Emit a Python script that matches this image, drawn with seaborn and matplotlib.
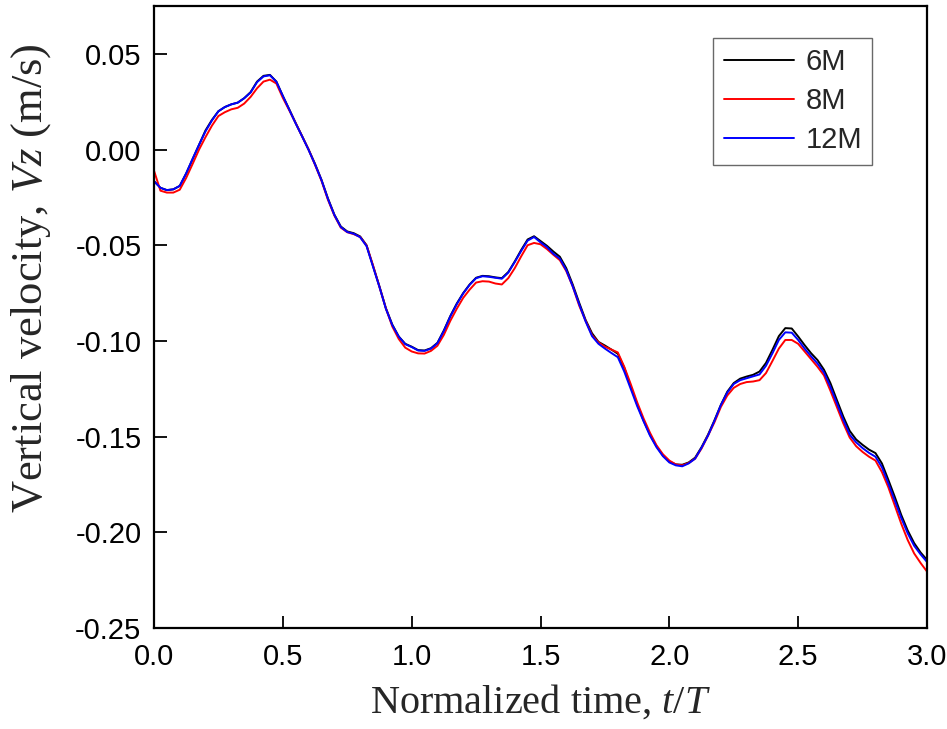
import numpy as np
import pandas as pd
import seaborn as sns
import matplotlib.pyplot as plt

# normalized time t/T, sampled every 0.025
t = [i * 0.025 for i in range(121)]

v_6m = [-0.0165, -0.0200, -0.0212, -0.0208, -0.0190, -0.0125, -0.0050, 0.0025, 0.0100, 0.0155,
        0.0200, 0.0222, 0.0236, 0.0245, 0.0268, 0.0300, 0.0355, 0.0385, 0.0390, 0.0355,
        0.0280, 0.0210, 0.0138, 0.0070, 0.0000, -0.0075, -0.0158, -0.0255, -0.0340, -0.0402,
        -0.0428, -0.0437, -0.0454, -0.0500, -0.0608, -0.0715, -0.0829, -0.0915, -0.0977, -0.1015,
        -0.1030, -0.1048, -0.1050, -0.1038, -0.1010, -0.0945, -0.0870, -0.0805, -0.0750, -0.0705,
        -0.0670, -0.0660, -0.0662, -0.0668, -0.0672, -0.0640, -0.0585, -0.0525, -0.0470, -0.0453,
        -0.0478, -0.0503, -0.0533, -0.0560, -0.0620, -0.0705, -0.0800, -0.0890, -0.0960, -0.1005,
        -0.1024, -0.1045, -0.1067, -0.1140, -0.1238, -0.1330, -0.1416, -0.1490, -0.1550, -0.1598,
        -0.1630, -0.1645, -0.1647, -0.1635, -0.1610, -0.1555, -0.1490, -0.1415, -0.1334, -0.1265,
        -0.1220, -0.1197, -0.1186, -0.1177, -0.1160, -0.1115, -0.1047, -0.0975, -0.0933, -0.0935,
        -0.0977, -0.1022, -0.1064, -0.1100, -0.1150, -0.1220, -0.1308, -0.1395, -0.1470, -0.1515,
        -0.1543, -0.1568, -0.1586, -0.1640, -0.1726, -0.1815, -0.1909, -0.1990, -0.2056, -0.2105,
        -0.2144]

v_8m = [-0.0110, -0.0215, -0.0225, -0.0225, -0.0210, -0.0148, -0.0075, 0.0000, 0.0065, 0.0125,
        0.0175, 0.0195, 0.0210, 0.0218, 0.0240, 0.0275, 0.0320, 0.0355, 0.0365, 0.0345,
        0.0270, 0.0205, 0.0138, 0.0068, 0.0000, -0.0080, -0.0163, -0.0262, -0.0345, -0.0408,
        -0.0432, -0.0442, -0.0457, -0.0502, -0.0605, -0.0718, -0.0830, -0.0925, -0.0990, -0.1035,
        -0.1055, -0.1065, -0.1066, -0.1052, -0.1025, -0.0968, -0.0895, -0.0832, -0.0775, -0.0732,
        -0.0695, -0.0688, -0.0690, -0.0700, -0.0705, -0.0672, -0.0620, -0.0558, -0.0500, -0.0488,
        -0.0495, -0.0520, -0.0550, -0.0578, -0.0635, -0.0715, -0.0815, -0.0895, -0.0970, -0.1008,
        -0.1030, -0.1045, -0.1060, -0.1135, -0.1225, -0.1320, -0.1405, -0.1480, -0.1545, -0.1592,
        -0.1625, -0.1645, -0.1650, -0.1638, -0.1615, -0.1562, -0.1495, -0.1425, -0.1345, -0.1285,
        -0.1245, -0.1225, -0.1215, -0.1212, -0.1205, -0.1168, -0.1105, -0.1040, -0.0995, -0.0995,
        -0.1015, -0.1055, -0.1095, -0.1135, -0.1180, -0.1260, -0.1345, -0.1430, -0.1505, -0.1550,
        -0.1580, -0.1605, -0.1625, -0.1685, -0.1765, -0.1860, -0.1955, -0.2040, -0.2110, -0.2160,
        -0.2205]

v_12m = [-0.0165, -0.0200, -0.0212, -0.0208, -0.0190, -0.0124, -0.0048, 0.0025, 0.0095, 0.0152,
         0.0200, 0.0222, 0.0236, 0.0245, 0.0268, 0.0298, 0.0352, 0.0382, 0.0388, 0.0354,
         0.0280, 0.0208, 0.0136, 0.0068, -0.0002, -0.0078, -0.0160, -0.0258, -0.0342, -0.0405,
         -0.0431, -0.0440, -0.0458, -0.0505, -0.0612, -0.0718, -0.0832, -0.0918, -0.0978, -0.1017,
         -0.1032, -0.1050, -0.1052, -0.1040, -0.1012, -0.0948, -0.0872, -0.0808, -0.0752, -0.0707,
         -0.0672, -0.0662, -0.0665, -0.0670, -0.0675, -0.0643, -0.0588, -0.0530, -0.0476, -0.0457,
         -0.0485, -0.0510, -0.0545, -0.0570, -0.0630, -0.0715, -0.0808, -0.0898, -0.0975, -0.1015,
         -0.1040, -0.1063, -0.1085, -0.1160, -0.1250, -0.1340, -0.1420, -0.1495, -0.1555, -0.1602,
         -0.1635, -0.1650, -0.1655, -0.1640, -0.1615, -0.1558, -0.1495, -0.1418, -0.1335, -0.1270,
         -0.1225, -0.1205, -0.1195, -0.1185, -0.1175, -0.1130, -0.1065, -0.0995, -0.0955, -0.0957,
         -0.0995, -0.1040, -0.1080, -0.1118, -0.1165, -0.1240, -0.1325, -0.1412, -0.1490, -0.1530,
         -0.1560, -0.1585, -0.1605, -0.1660, -0.1745, -0.1835, -0.1925, -0.2005, -0.2070, -0.2115,
         -0.2155]

labels = ["6M", "8M", "12M"]
colors = ["black", "red", "blue"]

df = pd.DataFrame({
    "t": t * 3,
    "vz": v_6m + v_8m + v_12m,
    "mesh": [labels[0]] * len(t) + [labels[1]] * len(t) + [labels[2]] * len(t),
})

sns.set_style("ticks")
plt.rcParams["font.family"] = ["Liberation Sans", "DejaVu Sans"]
plt.rcParams["axes.unicode_minus"] = False
plt.rcParams["mathtext.fontset"] = "custom"
plt.rcParams["mathtext.rm"] = "Liberation Serif"
plt.rcParams["mathtext.it"] = "Liberation Serif:italic"

fig = plt.figure(figsize=(9.47, 7.29), dpi=100)
ax = fig.add_axes([0.1626, 0.1385, 0.8163, 0.8533])

sns.lineplot(data=df, x="t", y="vz", hue="mesh", hue_order=labels,
             palette=dict(zip(labels, colors)), linewidth=1.4, ax=ax)

ax.set_xlim(0, 3.0)
ax.set_ylim(-0.25, 0.075)
ax.set_xticks(np.arange(0, 3.01, 0.5))
ax.set_yticks(np.arange(-0.25, 0.051, 0.05))
ax.xaxis.set_major_formatter(plt.FuncFormatter(lambda v, p: "%.1f" % (v + 0.0)))
ax.yaxis.set_major_formatter(plt.FuncFormatter(lambda v, p: "%.2f" % (round(v, 2) + 0.0)))
ax.tick_params(direction="in", length=9, width=1.3, color="black", labelcolor="black",
               labelsize=21, bottom=True, left=True)
ax.tick_params(axis="x", pad=11)
ax.tick_params(axis="y", pad=9)
for s in ax.spines.values():
    s.set_linewidth(1.6)
    s.set_color("black")

ax.set_xlabel("Normalized time, $t/T$", family="Liberation Serif", fontsize=29)
ax.set_ylabel("Vertical velocity, $Vz$ (m/s)", family="Liberation Serif", fontsize=32)
ax.xaxis.set_label_coords(0.5, -0.088)
ax.yaxis.set_label_coords(-0.131, 0.563)

leg = ax.legend(loc="upper right", bbox_to_anchor=(0.929, 0.9486), borderaxespad=0,
                fontsize=21, handlelength=2.4, fancybox=False, frameon=True,
                edgecolor="#444444", borderpad=0.35, labelspacing=0.38, handletextpad=0.4)
leg.get_frame().set_linewidth(1.0)

fig.savefig("out.png", dpi=100)
